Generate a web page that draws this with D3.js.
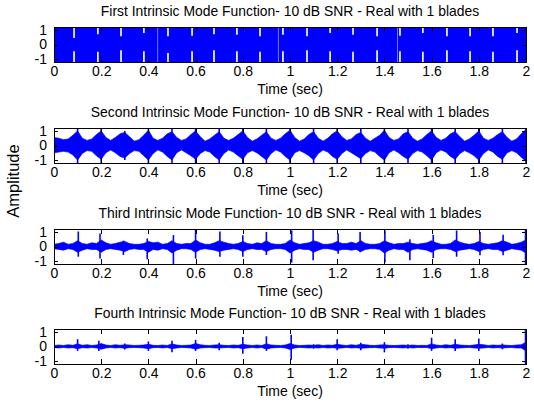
<!DOCTYPE html>
<html>
<head>
<meta charset="utf-8">
<script src="https://cdn.jsdelivr.net/npm/d3@7"></script>
<style>
    body { margin: 0; background: #fff; }
    svg { display: block; font-family: "Liberation Sans", Arial, sans-serif; }
</style>
</head>
<body>
<div id="chart"></div>
<script>
// Axis ticks and titles
const timeTicks = [0, 0.2, 0.4, 0.6, 0.8, 1, 1.2, 1.4, 1.6, 1.8, 2];
const ampTicks = [-1, 0, 1];
const titles = [
    'First Intrinsic Mode Function- 10 dB SNR - Real with 1 blades',
    'Second Intrinsic Mode Function- 10 dB SNR - Real with 1 blades',
    'Third Intrinsic Mode Function- 10 dB SNR - Real with 1 blades',
    'Fourth Intrinsic Mode Function- 10 dB SNR - Real with 1 blades'
];

// IMF 1: saturated everywhere, except short dips in the envelope
const imf1DipT  = [0.085, 0.186, 0.284, 0.381, 0.483, 0.585, 0.678, 0.775, 0.873, 0.97,
                   1.072, 1.17, 1.267, 1.369, 1.466, 1.563, 1.665, 1.763, 1.86, 1.962];
const imf1DipHi = [0.45, 0.7, 0.56, 0.79, 0.56, 0.6, 0.7, 0.67, 0.56, 0.67,
                   0.56, 0.79, 0.67, 0.56, 0.6, 0.79, 0.56, 0.56, 0.56, 0.79];
const imf1DipLo = [-0.47, -0.5, -0.4, -0.47, -0.58, -0.47, -0.4, -0.47, -0.5, -0.47,
                   -0.4, -0.47, -0.5, -0.4, -0.47, -0.5, -0.4, -0.47, -0.5, -0.4];
const imf1Dropouts = [0.44, 0.95, 1.456];
const imf1Full = 1.3;

// IMF 2..4: envelope every 0.02 s (101 samples from 0 to 2 s)
const envStep = 0.02;
const imf2Hi = [0.55, 0.5, 0.4, 0.45, 0.7,
    1.0, 0.5, 0.35, 0.45, 0.75,   1.0, 0.55, 0.35, 0.55, 0.8,   0.9, 0.6, 0.3, 0.4, 0.7,
    1.05, 0.5, 0.35, 0.5, 0.8,    0.95, 0.55, 0.35, 0.45, 0.75, 1.0, 0.6, 0.3, 0.45, 0.7,
    0.95, 0.5, 0.35, 0.5, 0.75,   1.0, 0.55, 0.3, 0.45, 0.7,    0.95, 0.5, 0.35, 0.5, 0.8,
    1.05, 0.55, 0.3, 0.45, 0.75,  0.95, 0.5, 0.3, 0.5, 0.8,     1.0, 0.6, 0.35, 0.45, 0.75,
    0.9, 0.5, 0.3, 0.5, 0.7,      1.05, 0.55, 0.35, 0.45, 0.8,  0.95, 0.5, 0.3, 0.45, 0.75,
    1.0, 0.55, 0.35, 0.5, 0.8,    0.95, 0.6, 0.3, 0.45, 0.7,    1.0, 0.5, 0.35, 0.5, 0.75,
    0.95, 0.55, 0.3, 0.45, 0.8,   1.1];
const imf2Lo = [-0.5, -0.45, -0.4, -0.45, -0.65,
    -1.0, -0.55, -0.35, -0.4, -0.7,  -0.95, -0.5, -0.3, -0.5, -0.75,  -0.85, -0.55, -0.35, -0.4, -0.7,
    -1.0, -0.55, -0.3, -0.45, -0.75, -1.0, -0.5, -0.3, -0.5, -0.7,    -0.95, -0.55, -0.35, -0.45, -0.75,
    -1.0, -0.55, -0.3, -0.45, -0.7,  -0.95, -0.5, -0.35, -0.5, -0.75, -1.0, -0.55, -0.3, -0.45, -0.75,
    -1.0, -0.5, -0.35, -0.5, -0.7,   -1.0, -0.55, -0.3, -0.45, -0.75, -0.95, -0.55, -0.3, -0.5, -0.7,
    -0.9, -0.55, -0.35, -0.45, -0.75, -1.0, -0.5, -0.3, -0.5, -0.75,  -0.95, -0.55, -0.35, -0.45, -0.7,
    -1.0, -0.5, -0.3, -0.45, -0.75,  -0.95, -0.55, -0.35, -0.5, -0.7, -1.0, -0.55, -0.3, -0.45, -0.75,
    -0.95, -0.5, -0.35, -0.5, -0.8,  -1.1];
const imf2SpikeT  = [0.1, 0.2, 0.3, 0.4, 0.5, 0.6, 0.7, 0.8, 0.9, 1.0,
                     1.1, 1.2, 1.3, 1.4, 1.5, 1.6, 1.7, 1.8, 1.9, 2.0];
const imf2SpikeHi = [1.3, 1.3, 1.0, 1.3, 1.3, 1.3, 1.3, 1.3, 1.2, 1.3,
                     1.3, 1.3, 1.3, 1.3, 1.3, 1.3, 1.3, 1.3, 1.3, 1.3];
const imf2SpikeLo = [-1.3, -1.3, -1.0, -1.3, -1.3, -1.3, -1.3, -1.3, -1.2, -1.3,
                     -1.3, -1.3, -1.3, -1.3, -1.3, -1.3, -1.3, -1.3, -1.3, -1.3];

const imf3Hi = [0.15, 0.2, 0.3, 0.15, 0.2,
    0.4, 0.2, 0.15, 0.25, 0.2,   0.45, 0.25, 0.15, 0.2, 0.3,   0.35, 0.2, 0.15, 0.15, 0.2,
    0.35, 0.25, 0.3, 0.15, 0.2,  0.4, 0.2, 0.15, 0.2, 0.2,     0.45, 0.25, 0.15, 0.15, 0.25,
    0.4, 0.3, 0.2, 0.15, 0.2,    0.35, 0.2, 0.15, 0.25, 0.2,   0.4, 0.2, 0.15, 0.15, 0.2,
    0.45, 0.25, 0.15, 0.2, 0.25, 0.4, 0.3, 0.15, 0.15, 0.2,    0.35, 0.2, 0.2, 0.3, 0.2,
    0.4, 0.2, 0.15, 0.15, 0.2,   0.4, 0.25, 0.15, 0.2, 0.2,    0.3, 0.2, 0.15, 0.2, 0.25,
    0.4, 0.25, 0.15, 0.15, 0.2,  0.45, 0.3, 0.2, 0.15, 0.2,    0.35, 0.2, 0.15, 0.2, 0.25,
    0.4, 0.3, 0.15, 0.2, 0.3,    0.45];
const imf3Lo = [-0.15, -0.2, -0.25, -0.15, -0.2,
    -0.4, -0.25, -0.15, -0.2, -0.2,  -0.4, -0.2, -0.15, -0.2, -0.25,  -0.35, -0.2, -0.15, -0.2, -0.2,
    -0.4, -0.2, -0.25, -0.15, -0.2,  -0.45, -0.25, -0.15, -0.15, -0.2, -0.4, -0.2, -0.15, -0.2, -0.25,
    -0.35, -0.25, -0.2, -0.15, -0.2, -0.35, -0.2, -0.15, -0.2, -0.2,   -0.35, -0.2, -0.15, -0.15, -0.2,
    -0.45, -0.25, -0.15, -0.2, -0.2, -0.4, -0.25, -0.15, -0.15, -0.2,  -0.3, -0.2, -0.2, -0.25, -0.2,
    -0.35, -0.2, -0.15, -0.15, -0.2, -0.45, -0.25, -0.15, -0.2, -0.2,  -0.4, -0.2, -0.15, -0.2, -0.25,
    -0.4, -0.2, -0.15, -0.15, -0.2,  -0.35, -0.25, -0.2, -0.15, -0.2,  -0.35, -0.2, -0.15, -0.2, -0.2,
    -0.35, -0.25, -0.15, -0.2, -0.25, -0.45];
const imf3SpikeT  = [0.103, 0.195, 0.294, 0.395, 0.506, 0.6, 0.703, 0.8, 0.9, 1.007,
                     1.098, 1.204, 1.297, 1.402, 1.508, 1.607, 1.706, 1.805, 1.903, 1.998];
const imf3SpikeHi = [1.03, 0.9, 0.4, 0.55, 0.78, 1.15, 1.03, 0.78, 1.0, 1.1,
                     1.2, 0.9, 1.0, 1.1, 0.5, 0.8, 1.1, 1.0, 0.8, 1.15];
const imf3SpikeLo = [-0.7, -0.83, -0.58, -0.88, -1.25, -0.83, -0.7, -0.7, -0.58, -1.1,
                     -0.95, -0.5, -0.4, -1.1, -0.95, -0.8, -0.7, -0.6, -0.6, -1.35];

const imf4Hi = [0.07, 0.1, 0.07, 0.12, 0.08,
    0.18, 0.08, 0.12, 0.07, 0.1,   0.2, 0.1, 0.07, 0.12, 0.08,   0.12, 0.1, 0.07, 0.08, 0.1,
    0.15, 0.08, 0.07, 0.1, 0.07,   0.18, 0.1, 0.07, 0.08, 0.1,   0.2, 0.12, 0.08, 0.07, 0.1,
    0.12, 0.08, 0.07, 0.1, 0.08,   0.15, 0.1, 0.07, 0.1, 0.07,   0.18, 0.1, 0.08, 0.07, 0.1,
    0.2, 0.1, 0.07, 0.08, 0.1,     0.08, 0.12, 0.07, 0.1, 0.08,  0.15, 0.1, 0.07, 0.12, 0.08,
    0.15, 0.12, 0.08, 0.07, 0.1,   0.12, 0.08, 0.07, 0.08, 0.1,  0.07, 0.1, 0.07, 0.08, 0.07,
    0.18, 0.1, 0.07, 0.12, 0.08,   0.15, 0.1, 0.08, 0.07, 0.1,   0.15, 0.12, 0.07, 0.1, 0.08,
    0.1, 0.08, 0.07, 0.1, 0.12,    0.3];
const imf4Lo = [-0.07, -0.1, -0.07, -0.1, -0.08,
    -0.15, -0.08, -0.1, -0.07, -0.1,  -0.18, -0.1, -0.07, -0.1, -0.08,  -0.12, -0.08, -0.07, -0.08, -0.1,
    -0.15, -0.08, -0.07, -0.1, -0.07, -0.15, -0.1, -0.07, -0.08, -0.1,  -0.18, -0.1, -0.08, -0.07, -0.1,
    -0.1, -0.08, -0.07, -0.1, -0.08,  -0.15, -0.1, -0.07, -0.1, -0.07,  -0.18, -0.1, -0.08, -0.07, -0.1,
    -0.2, -0.1, -0.07, -0.08, -0.1,   -0.08, -0.1, -0.07, -0.1, -0.08,  -0.12, -0.1, -0.07, -0.1, -0.08,
    -0.12, -0.1, -0.08, -0.07, -0.1,  -0.12, -0.08, -0.07, -0.08, -0.1, -0.07, -0.1, -0.07, -0.08, -0.07,
    -0.15, -0.1, -0.07, -0.1, -0.08,  -0.12, -0.1, -0.08, -0.07, -0.1,  -0.12, -0.1, -0.07, -0.1, -0.08,
    -0.1, -0.08, -0.07, -0.1, -0.1,   -0.3];
const imf4SpikeT  = [0.1, 0.19, 0.3, 0.4, 0.5, 0.6, 0.7, 0.8, 0.9, 1.005,
                     1.1, 1.2, 1.3, 1.4, 1.5, 1.6, 1.7, 1.8, 1.9, 1.998];
const imf4SpikeHi = [0.5, 0.4, 0.2, 0.35, 0.4, 0.45, 0.25, 0.65, 0.7, 0.8,
                     0.15, 0.5, 0.25, 0.3, 0.15, 0.6, 0.5, 0.55, 0.2, 1.3];
const imf4SpikeLo = [-0.3, -0.3, -0.2, -0.3, -0.4, -0.3, -0.25, -0.5, -0.3, -0.9,
                     -0.15, -0.25, -0.25, -0.4, -0.15, -0.3, -0.3, -0.3, -0.2, -1.3];

// Layout
const width = 534, height = 409;
const boxLeft = 54, boxWidth = 472, boxHeight = 35;
const boxTops = [27, 128, 229, 329];
const blue = '#0000ff';

const svg = d3.select('#chart')
    .append('svg')
    .attr('width', width)
    .attr('height', height);

svg.append('rect')
    .attr('width', width)
    .attr('height', height)
    .attr('fill', '#fff');

const x = d3.scaleLinear().domain([0, 2]).range([0, boxWidth]);
const y = d3.scaleLinear().domain([-1.2, 1.2]).range([boxHeight, 0]);

// Build envelope points for each panel
function gridPoints(hi, lo) {
    return hi.map((h, i) => ({ t: i * envStep, hi: h, lo: lo[i] }));
}

function imf1Points() {
    const pts = [{ t: 0, hi: imf1Full, lo: -imf1Full }, { t: 2, hi: imf1Full, lo: -imf1Full }];
    imf1DipT.forEach((t, i) => {
        pts.push({ t: t - 0.007, hi: imf1Full, lo: -imf1Full });
        pts.push({ t: t, hi: imf1DipHi[i], lo: imf1DipLo[i] });
        pts.push({ t: t + 0.007, hi: imf1Full, lo: -imf1Full });
    });
    imf1Dropouts.forEach(t => {
        pts.push({ t: t - 0.002, hi: imf1Full, lo: -imf1Full });
        pts.push({ t: t, hi: 0, lo: 0 });
        pts.push({ t: t + 0.002, hi: imf1Full, lo: -imf1Full });
    });
    return pts.sort((a, b) => a.t - b.t);
}

function spikes(ts, his, los) {
    return ts.map((t, i) => ({ t: t, hi: his[i], lo: los[i] }));
}

const panels = [
    { env: imf1Points(), curve: d3.curveStep, spikes: [] },
    { env: gridPoints(imf2Hi, imf2Lo), curve: d3.curveLinear, spikes: spikes(imf2SpikeT, imf2SpikeHi, imf2SpikeLo) },
    { env: gridPoints(imf3Hi, imf3Lo), curve: d3.curveLinear, spikes: spikes(imf3SpikeT, imf3SpikeHi, imf3SpikeLo) },
    { env: gridPoints(imf4Hi, imf4Lo), curve: d3.curveLinear, spikes: spikes(imf4SpikeT, imf4SpikeHi, imf4SpikeLo) }
];

const fontFamily = '"Liberation Sans", Arial, sans-serif';

panels.forEach((p, i) => {
    const g = svg.append('g')
        .attr('transform', `translate(${boxLeft},${boxTops[i]})`);

    g.append('clipPath')
        .attr('id', 'clip' + i)
        .append('rect')
        .attr('width', boxWidth)
        .attr('height', boxHeight);

    const plot = g.append('g').attr('clip-path', `url(#clip${i})`);

    const area = d3.area()
        .x(d => x(d.t))
        .y0(d => y(d.lo))
        .y1(d => y(d.hi))
        .curve(p.curve);

    plot.append('path')
        .datum(p.env)
        .attr('d', area)
        .attr('fill', blue)
        .attr('stroke', i === 0 ? 'none' : blue)
        .attr('stroke-width', 0.7);

    plot.selectAll('line.spike')
        .data(p.spikes)
        .join('line')
        .attr('class', 'spike')
        .attr('x1', d => x(d.t))
        .attr('x2', d => x(d.t))
        .attr('y1', d => y(d.lo))
        .attr('y2', d => y(d.hi))
        .attr('stroke', blue)
        .attr('stroke-width', 1.6);

    // Axes: MATLAB style, ticks pointing inward on all four sides
    const bottom = g.append('g')
        .attr('transform', `translate(0,${boxHeight})`)
        .call(d3.axisBottom(x).tickValues(timeTicks).tickFormat(d => String(d))
            .tickSizeInner(-5).tickSizeOuter(0).tickPadding(4));
    const top = g.append('g')
        .call(d3.axisTop(x).tickValues(timeTicks).tickFormat('')
            .tickSizeInner(-5).tickSizeOuter(0));
    const left = g.append('g')
        .call(d3.axisLeft(y).tickValues(ampTicks).tickFormat(d => String(d))
            .tickSizeInner(-4).tickSizeOuter(0).tickPadding(7));
    const right = g.append('g')
        .attr('transform', `translate(${boxWidth},0)`)
        .call(d3.axisRight(y).tickValues(ampTicks).tickFormat('')
            .tickSizeInner(-4).tickSizeOuter(0));

    [bottom, top, left, right].forEach(a => {
        a.selectAll('path, line').attr('stroke', '#000').attr('shape-rendering', 'crispEdges');
        a.selectAll('text')
            .attr('fill', '#000')
            .style('font-size', '14px')
            .style('font-family', fontFamily);
    });

    g.append('text')
        .attr('x', boxWidth / 2)
        .attr('y', -11)
        .attr('text-anchor', 'middle')
        .style('font-size', '13.9px')
        .text(titles[i]);

    g.append('text')
        .attr('x', boxWidth / 2)
        .attr('y', boxHeight + 32)
        .attr('text-anchor', 'middle')
        .style('font-size', '14px')
        .text('Time (sec)');
});

svg.append('text')
    .attr('transform', 'translate(19,181) rotate(-90)')
    .attr('text-anchor', 'middle')
    .style('font-size', '16.5px')
    .text('Amplitude');
</script>
</body>
</html>
